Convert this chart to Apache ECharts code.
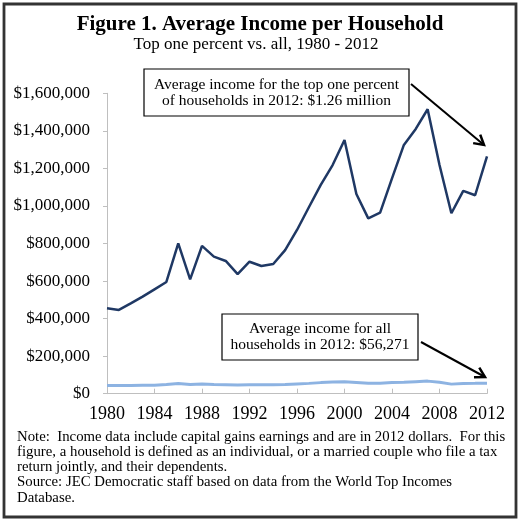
<!DOCTYPE html>
<html>
<head>
<meta charset="utf-8">
<script src="https://cdn.jsdelivr.net/npm/echarts@6/dist/echarts.min.js"></script>
<style>
html,body{margin:0;padding:0;background:#fff;}
#chart{width:525px;height:521px;}
</style>
</head>
<body>
<div id="chart"></div>
<script>
const years = [];
for (let y = 1980; y <= 2012; y++) years.push(y);
const topOnePercent = [455000, 446000, 481000, 517000, 556000, 595000, 801000, 609000, 787000, 730000,
  707000, 637000, 703000, 680000, 691000, 765000, 872000, 993000, 1112000, 1218000,
  1351000, 1064000, 934000, 964000, 1147000, 1325000, 1410000, 1515000, 1218000, 961000,
  1080000, 1057000, 1264000];
const allHouseholds = [43800, 43500, 43500, 45000, 45500, 49000, 54000, 49000, 52000, 49000,
  48000, 47000, 48000, 48000, 48000, 49000, 52000, 55000, 59000, 62000,
  64000, 60000, 56000, 56000, 59000, 61000, 64000, 67000, 61000, 51000,
  54000, 55000, 56271];
const yTicks = [0, 200000, 400000, 600000, 800000, 1000000, 1200000, 1400000, 1600000];

const titleText = 'Figure 1. Average Income per Household';
const subtitleText = 'Top one percent vs. all, 1980 - 2012';
const noteLines = [
  'Note:  Income data include capital gains earnings and are in 2012 dollars.  For this',
  'figure, a household is defined as an individual, or a married couple who file a tax',
  'return jointly, and their dependents.',
  'Source: JEC Democratic staff based on data from the World Top Incomes',
  'Database.'
];
const topNote = ['Average income for the top one percent', 'of households in 2012: $1.26 million'];
const allNote = ['Average income for all', 'households in 2012: $56,271'];

const FONT = '"Liberation Serif", serif';
const chart = echarts.init(document.getElementById('chart'));

function arrow(x1, y1, x2, y2) {
  const dx = x2 - x1, dy = y2 - y1, L = Math.hypot(dx, dy);
  const ux = -dx / L, uy = -dy / L, a = 11, c = Math.cos(Math.PI / 6), s = Math.sin(Math.PI / 6);
  const p1 = [x2 + a * (ux * c - uy * s), y2 + a * (ux * s + uy * c)];
  const p2 = [x2 + a * (ux * c + uy * s), y2 + a * (-ux * s + uy * c)];
  return [
    { type: 'line', shape: { x1, y1, x2, y2 }, style: { stroke: '#000', lineWidth: 2 } },
    { type: 'polyline', shape: { points: [p1, [x2, y2], p2] }, style: { stroke: '#000', lineWidth: 2.5, fill: null } }
  ];
}

const graphics = [
  { type: 'rect', shape: { x: 4, y: 4, width: 512, height: 513 }, style: { fill: null, stroke: '#333', lineWidth: 2.8 } },
  { type: 'text', x: 260, y: 25, style: { text: titleText, font: 'bold 21px ' + FONT, fill: '#000', align: 'center', verticalAlign: 'middle' } },
  { type: 'text', x: 256, y: 44.5, style: { text: subtitleText, font: '17px ' + FONT, fill: '#000', align: 'center', verticalAlign: 'middle' } },
  { type: 'rect', shape: { x: 144, y: 69, width: 265, height: 47 }, style: { fill: '#fff', stroke: '#000', lineWidth: 1.2 }, z: 10 },
  { type: 'text', x: 276.5, y: 85, z: 11, style: { text: topNote[0], font: '15.5px ' + FONT, fill: '#000', align: 'center', verticalAlign: 'middle' } },
  { type: 'text', x: 276.5, y: 101, z: 11, style: { text: topNote[1], font: '15.5px ' + FONT, fill: '#000', align: 'center', verticalAlign: 'middle' } },
  { type: 'rect', shape: { x: 222, y: 314, width: 196, height: 46 }, style: { fill: '#fff', stroke: '#000', lineWidth: 1.2 }, z: 10 },
  { type: 'text', x: 320, y: 329, z: 11, style: { text: allNote[0], font: '15.5px ' + FONT, fill: '#000', align: 'center', verticalAlign: 'middle' } },
  { type: 'text', x: 320, y: 345, z: 11, style: { text: allNote[1], font: '15.5px ' + FONT, fill: '#000', align: 'center', verticalAlign: 'middle' } },
  ...arrow(411, 84, 484, 145),
  ...arrow(421, 342, 485, 377)
];
noteLines.forEach((t, i) => {
  graphics.push({ type: 'text', x: 17, y: 437 + i * 15.2, style: { text: t, font: '14.8px ' + FONT, fill: '#000', align: 'left', verticalAlign: 'middle' } });
});

chart.setOption({
  animation: false,
  backgroundColor: '#fff',
  grid: { left: 107, right: 38, top: 93.3, bottom: 127.3, containLabel: false },
  xAxis: {
    type: 'value', min: 1980, max: 2012, interval: 4,
    axisLine: { lineStyle: { color: '#bfbfbf', width: 1 } },
    axisTick: { inside: true, length: 5, lineStyle: { color: '#bfbfbf' } },
    splitLine: { show: false },
    axisLabel: { margin: 12, color: '#000', fontFamily: 'Liberation Serif', fontSize: 18, formatter: v => String(v) }
  },
  yAxis: {
    type: 'value', min: yTicks[0], max: yTicks[yTicks.length - 1], interval: 200000,
    axisLine: { show: true, lineStyle: { color: '#bfbfbf', width: 1 } },
    axisTick: { show: true, inside: false, length: 4, lineStyle: { color: '#bfbfbf' } },
    splitLine: { show: false },
    axisLabel: { margin: 17, color: '#000', fontFamily: 'Liberation Serif', fontSize: 17, formatter: v => '$' + v.toLocaleString('en-US') }
  },
  series: [
    { type: 'line', name: 'Top one percent', data: years.map((y, i) => [y, topOnePercent[i]]), symbol: 'none', lineStyle: { color: '#1f3864', width: 2.5 }, z: 3 },
    { type: 'line', name: 'All households', data: years.map((y, i) => [y, allHouseholds[i]]), symbol: 'none', lineStyle: { color: '#8db3e2', width: 3 }, z: 2 }
  ],
  graphic: graphics
});
</script>
</body>
</html>
